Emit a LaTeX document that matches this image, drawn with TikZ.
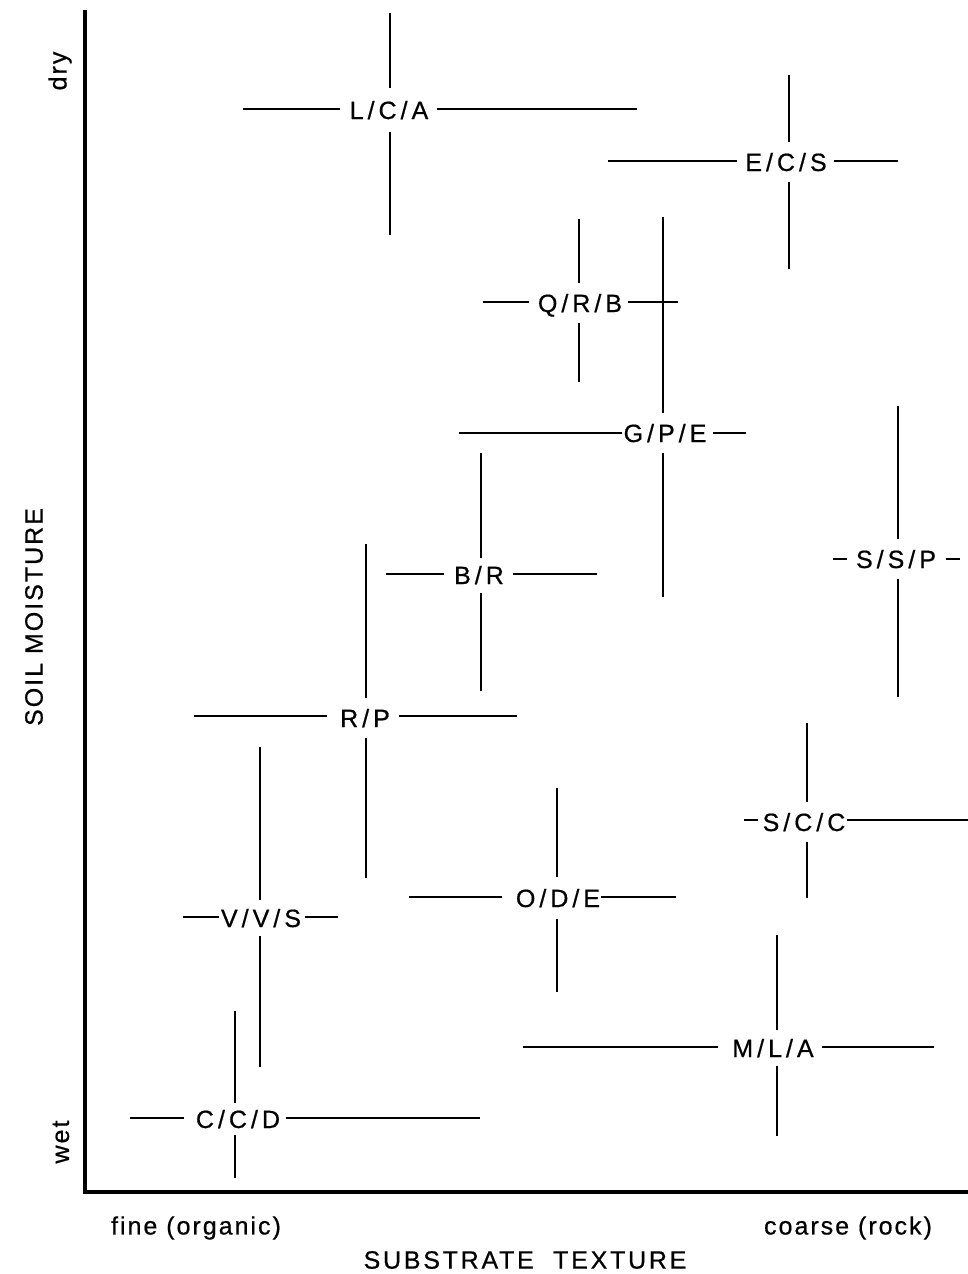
\documentclass[tikz,border=0pt]{standalone}
\usepackage{fontspec}
\setmainfont{Liberation Sans}
\newfontfamily\lblfam{Liberation Sans}[LetterSpace=2,FakeBold=0.6]
\newfontfamily\axfam{Liberation Sans}[LetterSpace=8,FakeBold=0.6]
\newfontfamily\axwidefam{Liberation Sans}[LetterSpace=11,FakeBold=0.6]
\newcommand{\slsh}{\kern4pt/\kern4pt}
\begin{document}
\begin{tikzpicture}[x=1pt,y=-1pt,
  lbl/.style={inner sep=0pt, text height=18pt, text depth=0pt, font=\lblfam\fontsize{25}{30}\selectfont},
  axlbl/.style={inner sep=0pt, font=\axfam\fontsize{25}{30}\selectfont},
  axwide/.style={inner sep=0pt, font=\axwidefam\fontsize{25}{30}\selectfont},
  bar/.style={line width=1.8pt},
  axisline/.style={line width=3.8pt}]
\useasboundingbox (0,0) rectangle (968,1274);
% axes
\coordinate (ytop) at (85,10);
\coordinate (orig) at (85,1192);
\coordinate (xend) at (968,1192);
\draw[axisline] (ytop) -- (orig) -- (xend);
\node[axlbl, rotate=90] (dry) at (60,71) {dry};
\node[axlbl, rotate=90] (wet) at (61,1142) {wet};
\node[axlbl, rotate=90] (sm) at (34,617) {SOIL MOISTURE};
\node[axlbl] (fine) at (196,1228) {fine (organic)};
\node[axlbl] (coarse) at (848,1228) {coarse (rock)};
\node[axwide] (st) at (525,1260) {SUBSTRATE \ TEXTURE};

% L/C/A
\node[lbl] (lca) at (389,110) {L\slsh C\slsh A};
\coordinate (lcaT) at (390,13); \coordinate (lcaB) at (390,235);
\coordinate (lcaL) at (243,109); \coordinate (lcaR) at (637,109);
\draw[bar, shorten >=13pt] (lcaT) -- (lcaT |- lca.north);
\draw[bar, shorten >=13pt] (lcaB) -- (lcaB |- lca.south);
\draw[bar, shorten >=10pt] (lcaL) -- (lca.west |- lcaL);
\draw[bar, shorten >=9pt] (lcaR) -- (lca.east |- lcaR);

% E/C/S
\node[lbl] (ecs) at (786,162) {E\slsh C\slsh S};
\coordinate (ecsT) at (789,75); \coordinate (ecsB) at (789,269);
\coordinate (ecsL) at (608,161); \coordinate (ecsR) at (898,161);
\draw[bar, shorten >=11pt] (ecsT) -- (ecsT |- ecs.north);
\draw[bar, shorten >=11pt] (ecsB) -- (ecsB |- ecs.south);
\draw[bar, shorten >=8pt] (ecsL) -- (ecs.west |- ecsL);
\draw[bar, shorten >=7pt] (ecsR) -- (ecs.east |- ecsR);

% Q/R/B
\node[lbl] (qrb) at (580,303) {Q\slsh R\slsh B};
\coordinate (qrbT) at (579,219); \coordinate (qrbB) at (579,382);
\coordinate (qrbL) at (483,302); \coordinate (qrbR) at (678,302);
\draw[bar, shorten >=11pt] (qrbT) -- (qrbT |- qrb.north);
\draw[bar, shorten >=11pt] (qrbB) -- (qrbB |- qrb.south);
\draw[bar, shorten >=9pt] (qrbL) -- (qrb.west |- qrbL);
\draw[bar, shorten >=6pt] (qrbR) -- (qrb.east |- qrbR);

% G/P/E
\node[lbl] (gpe) at (665,433) {G\slsh P\slsh E};
\coordinate (gpeT) at (663,217); \coordinate (gpeB) at (663,597);
\coordinate (gpeL) at (459,433); \coordinate (gpeR) at (746,433);
\draw[bar, shorten >=11pt] (gpeT) -- (gpeT |- gpe.north);
\draw[bar, shorten >=11pt] (gpeB) -- (gpeB |- gpe.south);
\draw[bar, shorten >=1pt] (gpeL) -- (gpe.west |- gpeL);
\draw[bar, shorten >=6pt] (gpeR) -- (gpe.east |- gpeR);

% B/R
\node[lbl] (br) at (479,575) {B\slsh R};
\coordinate (brT) at (481,453); \coordinate (brB) at (481,691);
\coordinate (brL) at (386,574); \coordinate (brR) at (597,574);
\draw[bar, shorten >=8pt] (brT) -- (brT |- br.north);
\draw[bar, shorten >=9pt] (brB) -- (brB |- br.south);
\draw[bar, shorten >=10pt] (brL) -- (br.west |- brL);
\draw[bar, shorten >=9pt] (brR) -- (br.east |- brR);

% S/S/P
\node[lbl] (ssp) at (896,559) {S\slsh S\slsh P};
\coordinate (sspT) at (898,406); \coordinate (sspB) at (898,697);
\coordinate (sspL) at (833,559); \coordinate (sspR) at (960,559);
\draw[bar, shorten >=11pt] (sspT) -- (sspT |- ssp.north);
\draw[bar, shorten >=11pt] (sspB) -- (sspB |- ssp.south);
\draw[bar, shorten >=3pt] (sspL) -- ++(17,0);
\draw[bar, shorten >=3pt] (sspR) -- ++(-17,0);

% R/P
\node[lbl] (rp) at (365,718) {R\slsh P};
\coordinate (rpT) at (366,544); \coordinate (rpB) at (366,878);
\coordinate (rpL) at (194,716); \coordinate (rpR) at (517,716);
\draw[bar, shorten >=11pt] (rpT) -- (rpT |- rp.north);
\draw[bar, shorten >=11pt] (rpB) -- (rpB |- rp.south);
\draw[bar, shorten >=13pt] (rpL) -- (rp.west |- rpL);
\draw[bar, shorten >=9pt] (rpR) -- (rp.east |- rpR);

% V/V/S
\node[lbl] (vvs) at (261,918) {V\slsh V\slsh S};
\coordinate (vvsT) at (260,747); \coordinate (vvsB) at (260,1067);
\coordinate (vvsL) at (183,917); \coordinate (vvsR) at (338,917);
\draw[bar, shorten >=9pt] (vvsT) -- (vvsT |- vvs.north);
\draw[bar, shorten >=9pt] (vvsB) -- (vvsB |- vvs.south);
\draw[bar, shorten >=2pt] (vvsL) -- (vvs.west |- vvsL);
\draw[bar, shorten >=4pt] (vvsR) -- (vvs.east |- vvsR);

% O/D/E
\node[lbl] (ode) at (558,898) {O\slsh D\slsh E};
\coordinate (odeT) at (557,788); \coordinate (odeB) at (557,992);
\coordinate (odeL) at (409,897); \coordinate (odeR) at (676,897);
\draw[bar, shorten >=12pt] (odeT) -- (odeT |- ode.north);
\draw[bar, shorten >=12pt] (odeB) -- (odeB |- ode.south);
\draw[bar, shorten >=14pt] (odeL) -- (ode.west |- odeL);
\draw[bar, shorten >=1pt] (odeR) -- (ode.east |- odeR);

% S/C/C
\node[lbl] (scc) at (804,822) {S\slsh C\slsh C};
\coordinate (sccT) at (807,723); \coordinate (sccB) at (807,898);
\coordinate (sccL) at (744,820); \coordinate (sccR) at (968,820);
\draw[bar, shorten >=11pt] (sccT) -- (sccT |- scc.north);
\draw[bar, shorten >=11pt] (sccB) -- (sccB |- scc.south);
\draw[bar, shorten >=4pt] (sccL) -- (scc.west |- sccL);
\draw[bar, shorten >=1pt] (sccR) -- (scc.east |- sccR);

% M/L/A
\node[lbl] (mla) at (773,1048) {M\slsh L\slsh A};
\coordinate (mlaT) at (777,935); \coordinate (mlaB) at (777,1136);
\coordinate (mlaL) at (523,1047); \coordinate (mlaR) at (934,1047);
\draw[bar, shorten >=9pt] (mlaT) -- (mlaT |- mla.north);
\draw[bar, shorten >=9pt] (mlaB) -- (mlaB |- mla.south);
\draw[bar, shorten >=14pt] (mlaL) -- (mla.west |- mlaL);
\draw[bar, shorten >=8pt] (mlaR) -- (mla.east |- mlaR);

% C/C/D
\node[lbl] (ccd) at (238,1119) {C\slsh C\slsh D};
\coordinate (ccdT) at (235,1011); \coordinate (ccdB) at (235,1178);
\coordinate (ccdL) at (130,1118); \coordinate (ccdR) at (480,1118);
\draw[bar, shorten >=7pt] (ccdT) -- (ccdT |- ccd.north);
\draw[bar, shorten >=7pt] (ccdB) -- (ccdB |- ccd.south);
\draw[bar, shorten >=12pt] (ccdL) -- (ccd.west |- ccdL);
\draw[bar, shorten >=6pt] (ccdR) -- (ccd.east |- ccdR);
\end{tikzpicture}
\end{document}
